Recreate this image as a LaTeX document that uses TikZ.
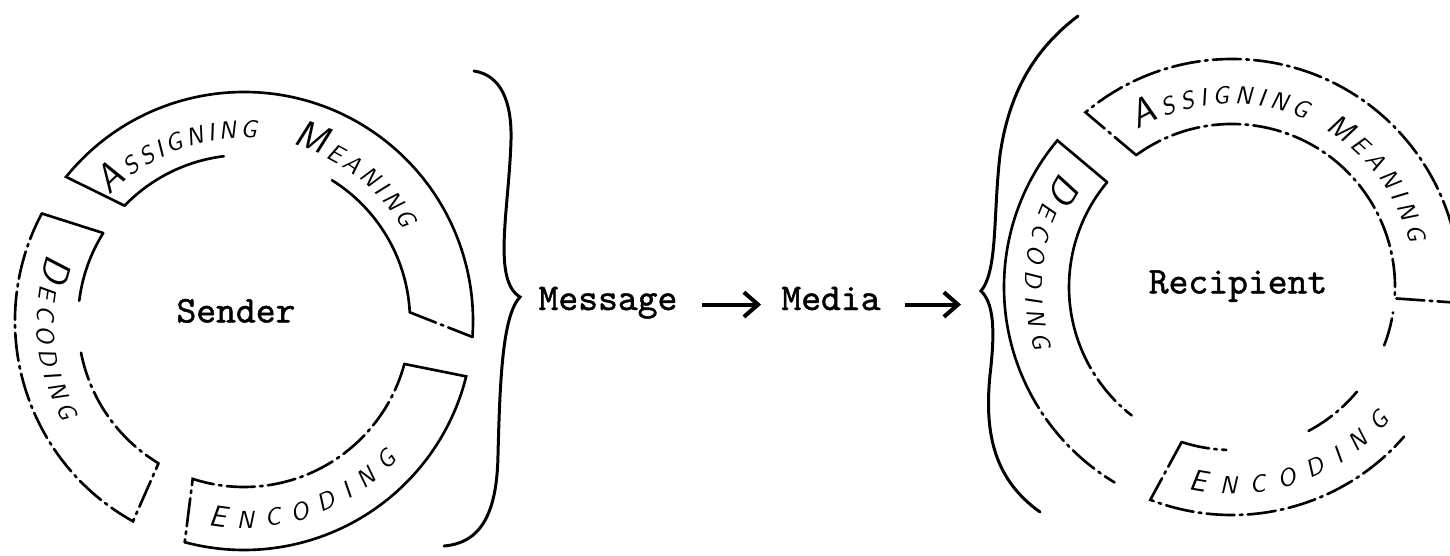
\documentclass[tikz,border=0pt]{standalone}
\usepackage{fontspec}
\newfontfamily\typewfont{lmmono10-regular.otf}[FakeBold=1.2]
\usetikzlibrary{arrows.meta,calc,decorations.text}

\newcommand{\ringcapbig}{\sffamily\itshape\fontsize{22}{22}\selectfont}
\newcommand{\ringcapmid}{\sffamily\itshape\fontsize{17}{17}\selectfont}
\newcommand{\ringcapsmall}{\sffamily\itshape\fontsize{14}{14}\selectfont}

\begin{document}
\begin{tikzpicture}[
  x=0.02cm, y=0.02cm,
  ringline/.style={line width=1.5pt, line cap=round},
  brokenline/.style={ringline, dash pattern=on 16pt off 3pt on 1.5pt off 3pt},
  bracecurve/.style={line width=1.7pt, line cap=round},
  flowarrow/.style={-{Straight Barb[length=8pt,width=14pt]}, line width=2.3pt, shorten <=0.48cm, shorten >=0.4cm},
  typelabel/.style={font=\typewfont\fontsize{21.5}{25}\selectfont, inner sep=0pt, text height=0.62em, text depth=0pt},
  ringtext/.style={decorate, decoration={text along path, text align={fit to path}, text={#1}}}
]
  \useasboundingbox (0,0) rectangle (1450,555);
  \clip (0,0) rectangle (1450,555);

  % sender ring
  \begin{scope}[shift={(244,234)}]
    \node[typelabel] (sender) at (-8,4) {Sender};
    % assigning meaning
    \draw[ringline] (136:166) -- (141:229) arc[start angle=141, end angle=-4, radius=229];
    \draw[ringline] (136:166) arc[start angle=136, end angle=97, radius=166];
    \draw[ringline] (58:166) arc[start angle=58, end angle=3, radius=166];
    \draw[brokenline] (3:166) -- (-4:229);
    % decoding
    \draw[ringline] (148:166) -- (152:229);
    \draw[brokenline] (152:229) arc[start angle=152, end angle=241, radius=229] -- (239:166);
    \draw[ringline] (148:166) arc[start angle=148, end angle=173, radius=166];
    \draw[brokenline] (191:166) arc[start angle=191, end angle=239, radius=166];
    % encoding
    \draw[ringline] (-15:166) -- (-14:229) arc[start angle=-14, end angle=-105, radius=229];
    \draw[brokenline] (-15:166) arc[start angle=-15, end angle=-108, radius=166] -- (-105:229);
    % ring labels
    \path[ringtext={|\ringcapbig|A|\ringcapsmall|SSIGNING{\hbox to 16pt{}}|\ringcapbig|M|\ringcapsmall|EANING}]
      (137:183) arc[start angle=137, end angle=30, radius=183];
    \path[ringtext={|\ringcapbig|D|\ringcapsmall|ECODING}]
      (161:207) arc[start angle=161, end angle=209, radius=207];
    \path[ringtext={|\ringcapmid|E|\ringcapsmall|NCODING}]
      (-100:207) arc[start angle=-100, end angle=-42, radius=207];
  \end{scope}

  % recipient ring
  \begin{scope}[shift={(1232,268)}]
    \node[typelabel] (recipient) at (6,-1) {Recipient};
    % assigning meaning
    \draw[brokenline] (126:163) -- (130:228) arc[start angle=130, end angle=-4, radius=228];
    \draw[brokenline] (126:163) arc[start angle=126, end angle=-4, radius=163] -- (-4:228);
    % decoding
    \draw[ringline] (140:163) -- (140:228) arc[start angle=140, end angle=205, radius=228];
    \draw[brokenline] (205:228) arc[start angle=205, end angle=239, radius=228];
    \draw[ringline] (140:163) arc[start angle=140, end angle=200, radius=163];
    \draw[brokenline] (200:163) arc[start angle=200, end angle=232, radius=163];
    % encoding
    \draw[brokenline] (-108:163) -- (-111:228) arc[start angle=-111, end angle=-41, radius=228];
    \draw[brokenline] (-108:163) arc[start angle=-108, end angle=-92, radius=163];
    \draw[brokenline] (-62:163) arc[start angle=-62, end angle=-40, radius=163];
    \draw[brokenline] (-21:163) arc[start angle=-21, end angle=-9, radius=163];
    % ring labels
    \path[ringtext={|\ringcapbig|A|\ringcapsmall|SSIGNING{\hbox to 6pt{}}|\ringcapmid|M|\ringcapsmall|EANING}]
      (121:183) arc[start angle=121, end angle=14, radius=183];
    \path[ringtext={|\ringcapbig|D|\ringcapsmall|ECODING}]
      (146:207) arc[start angle=146, end angle=198, radius=207];
    \path[ringtext={|\ringcapmid|E|\ringcapsmall|NCODING}]
      (-102:207) arc[start angle=-102, end angle=-40, radius=207];
  \end{scope}

  % braces
  \draw[bracecurve] (474,484) .. controls (500,480) and (512,455) .. (511,415)
    .. controls (509,345) and (492,275) .. (520,258)
    .. controls (503,240) and (500,180) .. (498,100)
    .. controls (497,40) and (480,12) .. (444,9);
  \draw[bracecurve] (1078,539) .. controls (1040,510) and (1010,470) .. (1000,400)
    .. controls (993,340) and (998,285) .. (981,264) coordinate (rtip)
    .. controls (996,250) and (994,215) .. (990,180)
    .. controls (984,120) and (995,75) .. (1040,43);

  % message flow
  \node[typelabel, anchor=base] (message) at (608,245) {Message};
  \node[typelabel, anchor=base] (media) at (831,245) {Media};
  \draw[flowarrow] (message) -- (media);
  \draw[flowarrow] (media) -- (media -| rtip);
\end{tikzpicture}
\end{document}
